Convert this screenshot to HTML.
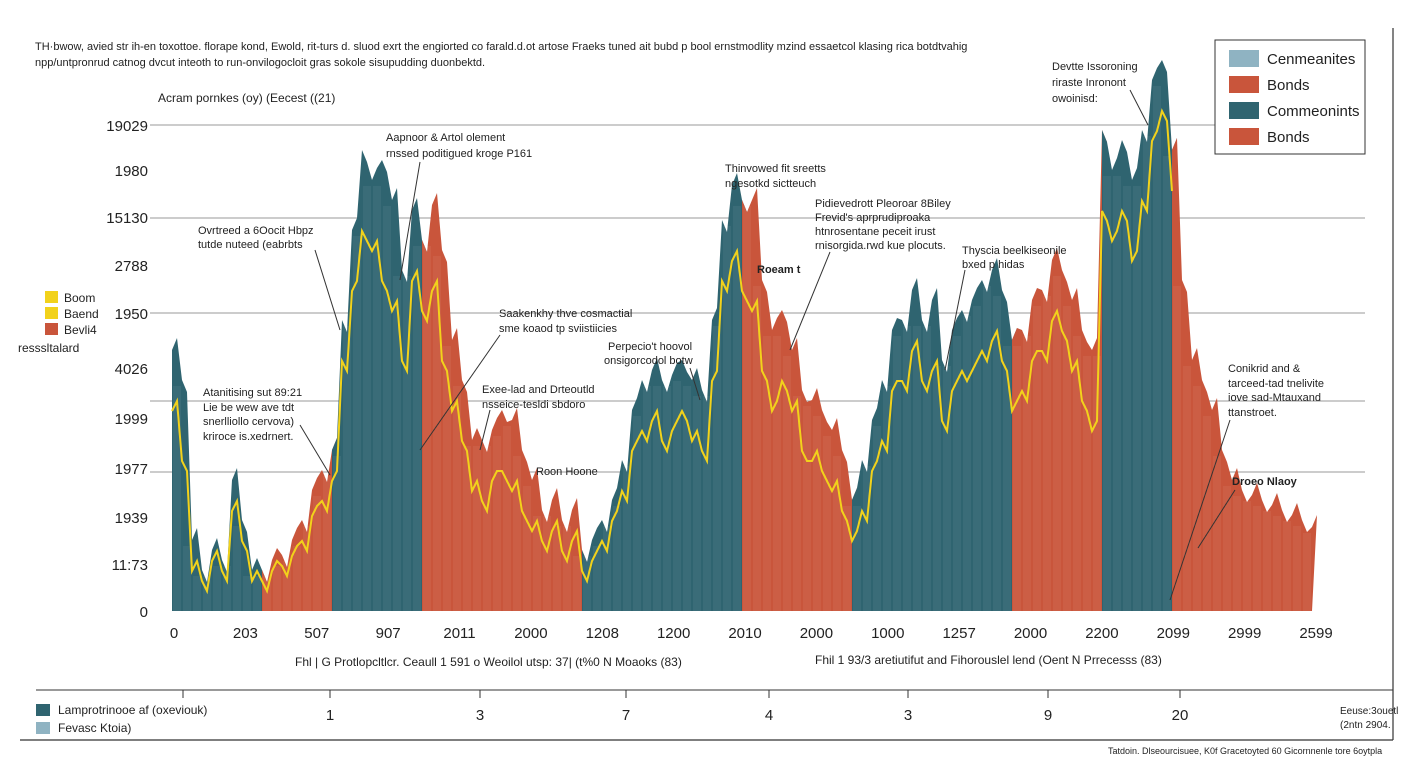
<!DOCTYPE html>
<html><head><meta charset="utf-8"><style>
body{margin:0;background:#fff;font-family:"Liberation Sans",sans-serif;}
svg text{font-family:"Liberation Sans",sans-serif;fill:#222;}
</style></head><body>
<svg id="chart" width="1408" height="768" viewBox="0 0 1408 768">
<rect x="0" y="0" width="1408" height="768" fill="#fff"/>
<line x1="20" y1="740" x2="1393" y2="740" stroke="#333" stroke-width="1.2"/>
<line x1="1393" y1="28" x2="1393" y2="740" stroke="#333" stroke-width="1.2"/>
<text x="35" y="50" font-size="11">TH·bwow, avied str ih-en toxottoe. florape kond, Ewold, rit-turs d. sluod exrt the engiorted co farald.d.ot artose Fraeks tuned ait bubd p bool ernstmodlity mzind essaetcol klasing rica botdtvahig</text>
<text x="35" y="66" font-size="11">npp/untpronrud catnog dvcut inteoth to run-onvilogocloit gras sokole sisupudding duonbektd.</text>
<text x="158" y="102" font-size="12">Acram pornkes (oy) (Eecest ((21)</text>
<g id="grid"></g>
<g id="yticks"></g>
<g id="areas"></g>
<g id="xticks"></g>
<g font-size="11">
<text x="386" y="141">Aapnoor &amp; Artol olement</text><text x="386" y="157">rnssed poditigued kroge P161</text>
<line x1="420" y1="162" x2="400" y2="280" stroke="#333"/>
<text x="198" y="234">Ovrtreed a 6Oocit Hbpz</text><text x="198" y="248">tutde nuteed (eabrbts</text>
<line x1="315" y1="250" x2="340" y2="330" stroke="#333"/>
<text x="725" y="172">Thinvowed fit sreetts</text><text x="725" y="187">ngesotkd sictteuch</text>
<text x="815" y="207">Pidievedrott Pleoroar 8Biley</text><text x="815" y="221">Frevid's aprprudiproaka</text><text x="815" y="235">htnrosentane peceit irust</text><text x="815" y="249">rnisorgida.rwd kue plocuts.</text>
<line x1="830" y1="252" x2="790" y2="350" stroke="#333"/>
<text x="757" y="273" font-weight="bold">Roeam t</text>
<text x="962" y="254">Thyscia beelkiseonile</text><text x="962" y="268">bxed p hidas</text>
<line x1="965" y1="270" x2="945" y2="370" stroke="#333"/>
<text x="1052" y="70">Devtte Issoroning</text><text x="1052" y="86">riraste Inronont</text><text x="1052" y="102">owoinisd:</text>
<line x1="1130" y1="90" x2="1148" y2="125" stroke="#333"/>
<text x="499" y="317">Saakenkhy thve cosmactial</text><text x="499" y="332">sme koaod tp sviistiicies</text>
<line x1="500" y1="335" x2="420" y2="450" stroke="#333"/>
<text x="608" y="350">Perpecio't hoovol</text><text x="604" y="364">onsigorcodol botw</text>
<line x1="690" y1="368" x2="700" y2="400" stroke="#333"/>
<text x="203" y="396">Atanitising sut 89:21</text><text x="203" y="411">Lie be wew ave tdt</text><text x="203" y="425">snerlliollo cervova)</text><text x="203" y="440">kriroce is.xedrnert.</text>
<line x1="300" y1="425" x2="330" y2="475" stroke="#333"/>
<text x="482" y="393">Exee-lad and Drteoutld</text><text x="482" y="408">nsseice-tesldi sbdoro</text>
<line x1="490" y1="410" x2="480" y2="450" stroke="#333"/>
<text x="536" y="475">Roon Hoone</text>
<text x="1228" y="372">Conikrid and &amp;</text><text x="1228" y="387">tarceed-tad tnelivite</text><text x="1228" y="401">iove sad-Mtauxand</text><text x="1228" y="416">ttanstroet.</text>
<line x1="1230" y1="420" x2="1170" y2="600" stroke="#333"/>
<text x="1232" y="485" font-weight="bold">Droeo Nlaoy</text>
<line x1="1235" y1="490" x2="1198" y2="548" stroke="#333"/>
</g>
<g>
<rect x="1215" y="40" width="150" height="114" fill="#fff" stroke="#333"/>
<rect x="1229" y="50" width="30" height="17" fill="#8fb3c2"/><text x="1267" y="64" font-size="15">Cenmeanites</text>
<rect x="1229" y="76" width="30" height="17" fill="#c9553b"/><text x="1267" y="90" font-size="15">Bonds</text>
<rect x="1229" y="102" width="30" height="17" fill="#2f6470"/><text x="1267" y="116" font-size="15">Commeonints</text>
<rect x="1229" y="128" width="30" height="17" fill="#c9553b"/><text x="1267" y="142" font-size="15">Bonds</text>
</g>
<g font-size="12">
<rect x="45" y="291" width="13" height="12" fill="#f2d21b"/><text x="64" y="302">Boom</text>
<rect x="45" y="307" width="13" height="12" fill="#f2d21b"/><text x="64" y="318">Baend</text>
<rect x="45" y="323" width="13" height="12" fill="#c9553b"/><text x="64" y="334">Bevli4</text>
<text x="18" y="352">resssltalard</text>
</g>
<text x="295" y="666" font-size="12">Fhl | G Protlopcltlcr. Ceaull 1 591 o Weoilol utsp: 37| (t%0 N Moaoks (83)</text>
<text x="815" y="664" font-size="12">Fhil 1 93/3 aretiutifut and Fihorouslel lend (Oent N Prrecesss (83)</text>
<line x1="36" y1="690" x2="1393" y2="690" stroke="#333"/>
<g id="x2ticks"></g>
<g font-size="12">
<rect x="36" y="704" width="14" height="12" fill="#2f6470"/><text x="58" y="714">Lamprotrinooe af (oxeviouk)</text>
<rect x="36" y="722" width="14" height="12" fill="#8fb3c2"/><text x="58" y="732">Fevasc Ktoia)</text>
</g>
<text x="1340" y="714" font-size="10">Eeuse:3ouetl</text>
<text x="1340" y="728" font-size="10">(2ntn 2904.</text>
<text x="1108" y="754" font-size="9">Tatdoin. Dlseourcisuee, K0f Gracetoyted 60 Gicornnenle tore 6oytpla</text>
</svg>
<script>
const yTickLabels=["19029","1980","15130","2788","1950","4026","1999","1977","1939","11:73","0"];
const yTickValues=[486,441,394,346,298,243,193,143,94,47,0];
const gridValues=[486,393,298,210,139];
const xTickLabels=["0","203","507","907","2011","2000","1208","1200","2010","2000","1000","1257","2000","2200","2099","2999","2599"];
const x2TickLabels=["1","3","7","4","3","9","20"];
const values=[261,231,71,41,61,51,131,91,41,41,51,56,71,91,121,141,161,291,381,461,431,451,411,341,401,371,406,361,271,231,171,171,181,201,191,161,131,101,111,91,101,61,71,91,111,151,201,231,241,231,236,251,231,221,291,391,426,411,411,331,281,301,261,221,211,201,181,161,111,151,191,231,281,291,321,291,311,251,281,301,311,331,341,321,271,281,311,321,351,341,311,281,261,481,441,471,431,481,531,551,461,331,251,231,201,161,131,121,116,111,106,101,96,91,84];
const lineValues=[200,150,40,30,50,40,100,70,30,30,40,45,55,70,95,110,130,250,320,380,360,330,300,250,330,300,320,250,200,170,120,110,130,140,120,100,80,70,80,60,70,40,50,70,90,120,160,180,190,170,180,200,170,160,230,330,350,320,300,240,200,230,200,160,150,140,120,100,70,100,140,170,220,230,260,230,240,190,220,240,240,260,270,250,200,220,250,260,290,280,240,210,180,400,370,400,350,410,470,500,420,0,0,0,0,0,0,0,0,0,0,0,0,0,0];
const segmentBreaks=[0,9,16,25,41,57,68,84,93,100,114];
const colors=["#2f6470","#c9553b"];
const X0=172,X1=1312,Y0=611,PH=550,VMAX=550;
const N=values.length;
const xs=i=>X0+(X1-X0)*i/(N-1);
const ys=v=>Y0-v/VMAX*PH;
const NS="http://www.w3.org/2000/svg";
function mk(t,a,p){const e=document.createElementNS(NS,t);for(const k in a)e.setAttribute(k,a[k]);p.appendChild(e);return e;}
const grid=document.getElementById('grid');
gridValues.forEach(v=>{const l=mk('line',{x1:150,x2:1365,y1:ys(v),y2:ys(v),stroke:'#999','stroke-width':1},grid);

});
const yt=document.getElementById('yticks');
yTickLabels.forEach((s,i)=>{const t=mk('text',{x:148,y:ys(yTickValues[i])+6,'text-anchor':'end','font-size':15},yt);t.textContent=s;

});
const ar=document.getElementById('areas');
for(let s=0;s<segmentBreaks.length-1;s++){
 const a=segmentBreaks[s],b=segmentBreaks[s+1];
 let d='M'+xs(a)+','+Y0;
 for(let i=a;i<=b;i++){const jitter=(i%2?3:-3);d+=' L'+xs(i)+','+ys(values[i]);d+=' L'+(xs(i)+5)+','+(ys(values[i])+jitter*4);}
 d+=' L'+xs(b)+','+Y0+' Z';
 const p=mk('path',{d:d,fill:colors[s%2]},ar);
 
 
 for(let i=a;i<b;i++){for(let k=1;k<5;k++){const x=xs(i)+k*2;const l=mk('line',{x1:x,x2:x,y1:Y0,y2:ys(Math.min(values[i],values[i+1]))+6,stroke:'rgba(255,255,255,0.18)','stroke-width':0.6},ar);
 
 }}
}
let ld='';
for(let i=0;i<N;i++){if(lineValues[i]<=0)continue;ld+=(ld?' L':'M')+xs(i)+','+ys(lineValues[i]);if(i<N-1&&lineValues[i+1]>0)ld+=' L'+(xs(i)+5)+','+(ys(lineValues[i])+(i%2?10:-10));}
const yl=mk('path',{d:ld,fill:'none',stroke:'#f2d21b','stroke-width':2},ar);


const xt=document.getElementById('xticks');
xTickLabels.forEach((s,i)=>{const x=174+i*(1316-174)/(xTickLabels.length-1);const t=mk('text',{x:x,y:638,'text-anchor':'middle','font-size':15},xt);t.textContent=s;

});
const x2=document.getElementById('x2ticks');
const x2pos=[183,330,480,626,769,908,1048,1180];
[0,1,2,3,4,5,6,7].forEach(i=>{const l=mk('line',{x1:x2pos[i],x2:x2pos[i],y1:690,y2:698,stroke:'#333'},x2);


if(i>0){const t=mk('text',{x:x2pos[i],y:720,'text-anchor':'middle','font-size':15},x2);t.textContent=x2TickLabels[i-1];

}});
</script>
</body></html>
